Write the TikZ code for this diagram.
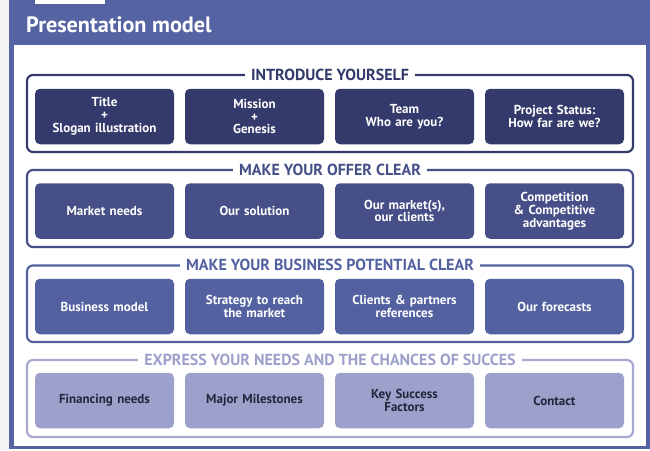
\documentclass[tikz,border=0pt]{standalone}
\usepackage{fontspec}
\setmainfont{PT Sans}
\definecolor{barblue}{HTML}{5563A3}
\definecolor{cA}{HTML}{343A6B}
\definecolor{cB}{HTML}{464F87}
\definecolor{cC}{HTML}{5361A1}
\definecolor{cD}{HTML}{9EA0CC}
\definecolor{cDline}{HTML}{A6A8D2}
\definecolor{cDtext}{HTML}{24263D}
\definecolor{sidegray}{HTML}{F4F4F6}
\begin{document}
\begin{tikzpicture}[x=1pt,y=-1pt,
  grp/.style={draw, line width=2.2pt, rounded corners=6pt},
  box/.style={rounded corners=5pt, minimum width=139pt, minimum height=55.5pt,
    text width=134pt, align=center, inner sep=0pt,
    font=\fontsize{13}{12.8}\selectfont\bfseries},
  glabel/.style={fill=white, inner xsep=6pt, inner ysep=1pt,
    font=\fontsize{16}{17}\selectfont\bfseries}
]
\useasboundingbox (0,0) rectangle (650,450);
% page side strip
\fill[sidegray] (0,0) rectangle (9,450);
% outer frame and title bar
\fill[barblue] (9,0) rectangle (650,449);
\fill[white] (14,44.5) rectangle (645.5,446);
\fill[white] (35,0) rectangle (105,4);
\node[anchor=base west, text=white, inner sep=0pt,
  font=\fontsize{22.2}{24}\selectfont\bfseries] (title) at (26,32) {Presentation model};

% group frames
\draw[grp, cA] (27,75) rectangle (633,152);
\draw[grp, cB] (27,170) rectangle (633,247);
\draw[grp, cC] (27,265.5) rectangle (633,342);
\draw[grp, cDline] (27,360) rectangle (633,437);

\node[glabel, text=cA] (l1) at (330,74.5) {INTRODUCE YOURSELF};
\node[glabel, text=cB] (l2) at (330,169.5) {MAKE YOUR OFFER CLEAR};
\node[glabel, text=cC] (l3) at (330,265) {MAKE YOUR BUSINESS POTENTIAL CLEAR};
\node[glabel, text=cD] (l4) at (330,359.5) {EXPRESS YOUR NEEDS AND THE CHANCES OF SUCCES};

% row 1
\node[box, fill=cA, text=white] (a1) at (104.5,116.5) {Title\\+\\Slogan illustration};
\node[box, fill=cA, text=white] (a2) at (254.5,116.5) {Mission\\+\\Genesis};
\node[box, fill=cA, text=white] (a3) at (404.5,116.5) {Team\\Who are you?};
\node[box, fill=cA, text=white] (a4) at (554.5,116.5) {Project Status:\\How far are we?};
% row 2
\node[box, fill=cB, text=white] (b1) at (104.5,211) {Market needs};
\node[box, fill=cB, text=white] (b2) at (254.5,211) {Our solution};
\node[box, fill=cB, text=white] (b3) at (404.5,211) {Our market(s),\\our clients};
\node[box, fill=cB, text=white] (b4) at (554.5,211) {Competition\\\&~Competitive\\advantages};
% row 3
\node[box, fill=cC, text=white] (c1) at (104.5,306.5) {Business model};
\node[box, fill=cC, text=white] (c2) at (254.5,306.5) {Strategy to reach\\the market};
\node[box, fill=cC, text=white] (c3) at (404.5,306.5) {Clients \& partners\\references};
\node[box, fill=cC, text=white] (c4) at (554.5,306.5) {Our forecasts};
% row 4
\node[box, fill=cD, text=cDtext] (d1) at (104.5,400.5) {Financing needs};
\node[box, fill=cD, text=cDtext] (d2) at (254.5,400.5) {Major Milestones};
\node[box, fill=cD, text=cDtext] (d3) at (404.5,400.5) {Key Success\\Factors};
\node[box, fill=cD, text=cDtext] (d4) at (554.5,400.5) {Contact};
\end{tikzpicture}
\end{document}
